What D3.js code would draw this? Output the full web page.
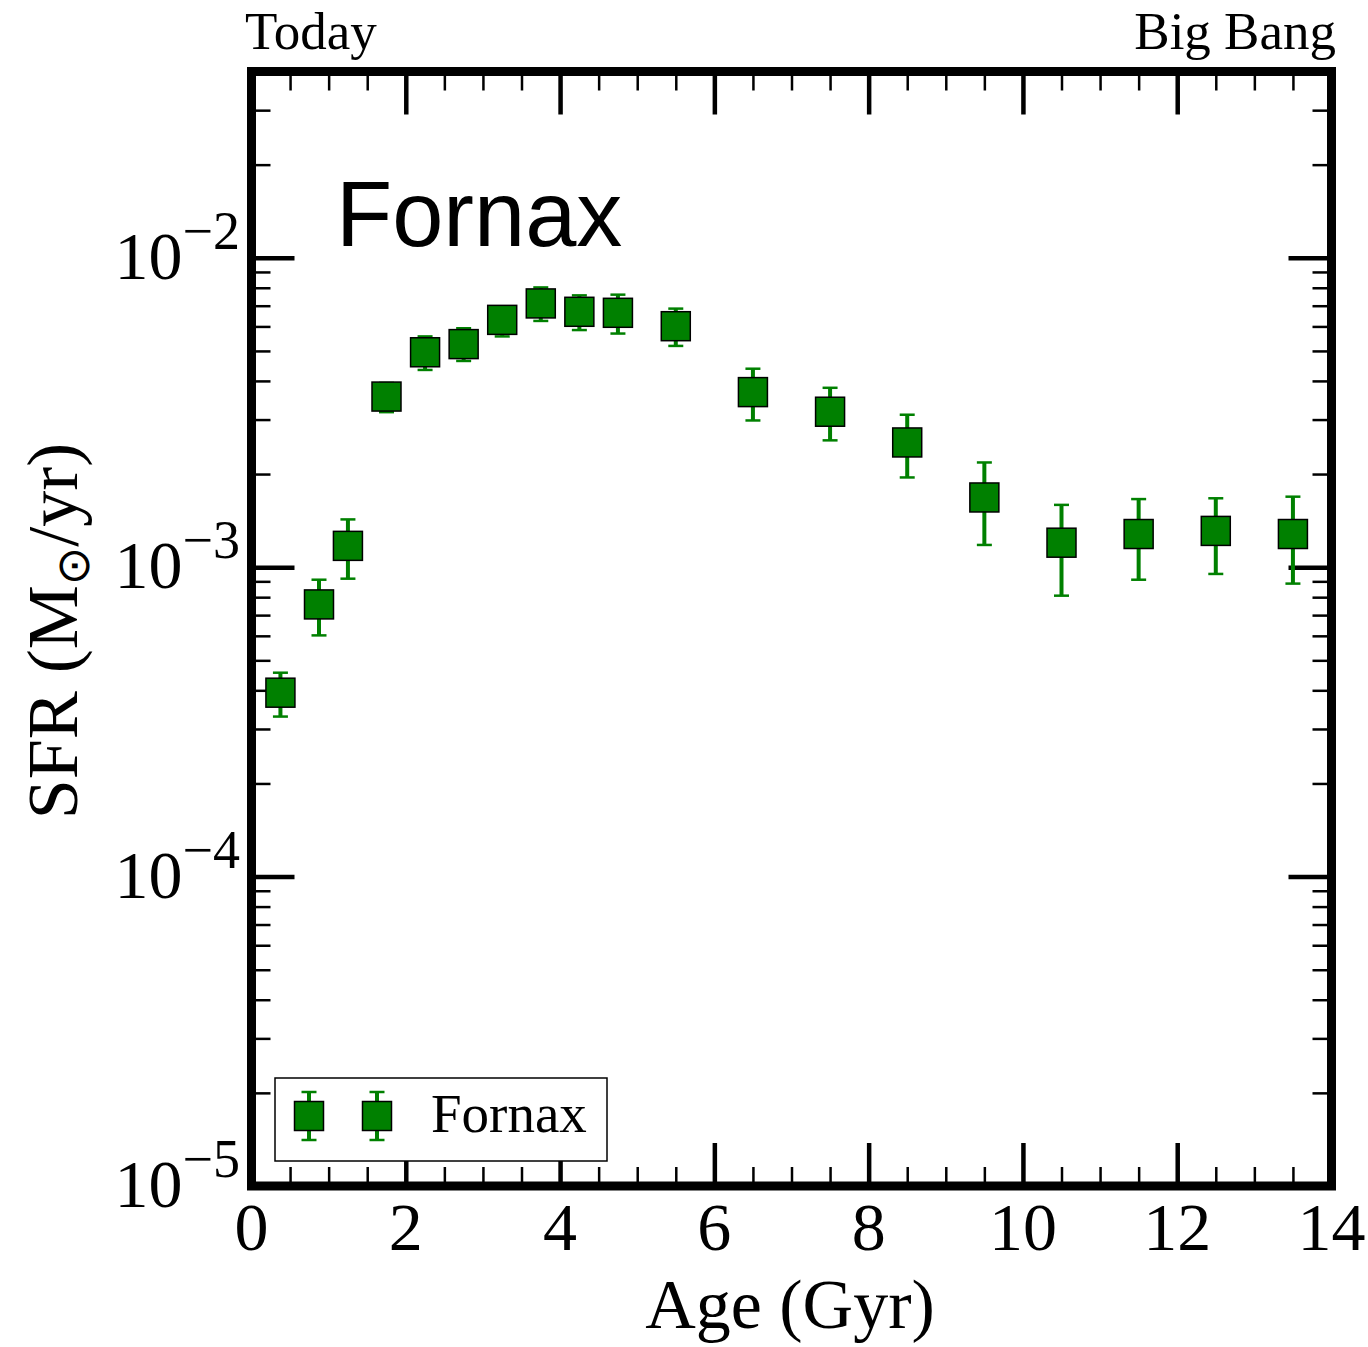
<!DOCTYPE html>
<html>
<head>
<meta charset="utf-8">
<script src="https://cdn.jsdelivr.net/npm/d3@7"></script>
<style>
  html, body { margin: 0; padding: 0; background: #fff; }
  svg { display: block; }
</style>
</head>
<body>
<svg id="chart" width="1368" height="1347"></svg>
<script>
// Fornax star formation history: SFR per age bin with error bars
const ages  = [0.375, 0.875, 1.25, 1.75, 2.25, 2.75, 3.25, 3.75, 4.25, 4.75, 5.5, 6.5, 7.5, 8.5, 9.5, 10.5, 11.5, 12.5, 13.5];
const sfr   = [3.93e-4, 7.58e-4, 1.172e-3, 3.56e-3, 4.95e-3, 5.26e-3, 6.30e-3, 7.12e-3, 6.69e-3, 6.64e-3, 6.01e-3, 3.68e-3, 3.18e-3, 2.53e-3, 1.68e-3, 1.20e-3, 1.28e-3, 1.31e-3, 1.28e-3];
const sfrHi = [4.56e-4, 9.11e-4, 1.427e-3, 3.94e-3, 5.57e-3, 5.92e-3, 6.95e-3, 8.02e-3, 7.56e-3, 7.60e-3, 6.85e-3, 4.38e-3, 3.80e-3, 3.11e-3, 2.18e-3, 1.59e-3, 1.66e-3, 1.67e-3, 1.69e-3];
const sfrLo = [3.29e-4, 6.02e-4, 9.18e-4, 3.17e-3, 4.34e-3, 4.64e-3, 5.57e-3, 6.25e-3, 5.84e-3, 5.69e-3, 5.19e-3, 2.98e-3, 2.57e-3, 1.95e-3, 1.18e-3, 8.09e-4, 9.11e-4, 9.51e-4, 8.85e-4];

const xMajorTicks = [0, 2, 4, 6, 8, 10, 12, 14];
const yMajorExponents = [-5, -4, -3, -2];
const seriesName = "Fornax";

const svg = d3.select("#chart");
const plotL = 251.5, plotR = 1331.5, plotT = 71.5, plotB = 1186;

const x = d3.scaleLinear().domain([0, 14]).range([plotL, plotR]);
const y = d3.scaleLog().domain([1e-5, 4e-2]).range([plotB, plotT]);

const green = "#008000";
const serif = "'Liberation Serif', 'Times New Roman', serif";

// minor tick values
const xMinor = d3.range(0, 14.01, 0.5).filter(v => !xMajorTicks.includes(v));
const yMajor = yMajorExponents.map(e => Math.pow(10, e));
const yMinor = [];
for (let e = -5; e <= -2; e++) {
  for (let m = 2; m <= 9; m++) {
    const v = m * Math.pow(10, e);
    if (v < 4e-2) yMinor.push(v);
  }
}

const ticks = svg.append("g");
function drawTicks(sel, axisGen, values, size, width) {
  sel.call(axisGen.tickValues(values).tickSize(-size).tickFormat(""));
  sel.select(".domain").remove();
  sel.selectAll(".tick line").attr("stroke", "#000").attr("stroke-width", width);
}
// bottom & top
drawTicks(ticks.append("g").attr("transform", `translate(0,${plotB})`), d3.axisBottom(x), xMajorTicks, 43, 4.5);
drawTicks(ticks.append("g").attr("transform", `translate(0,${plotB})`), d3.axisBottom(x), xMinor, 19, 2.5);
drawTicks(ticks.append("g").attr("transform", `translate(0,${plotT})`), d3.axisTop(x), xMajorTicks, 43, 4.5);
drawTicks(ticks.append("g").attr("transform", `translate(0,${plotT})`), d3.axisTop(x), xMinor, 19, 2.5);
// left & right
drawTicks(ticks.append("g").attr("transform", `translate(${plotL},0)`), d3.axisLeft(y), yMajor, 43, 4.5);
drawTicks(ticks.append("g").attr("transform", `translate(${plotL},0)`), d3.axisLeft(y), yMinor, 19, 2.5);
drawTicks(ticks.append("g").attr("transform", `translate(${plotR},0)`), d3.axisRight(y), yMajor, 43, 4.5);
drawTicks(ticks.append("g").attr("transform", `translate(${plotR},0)`), d3.axisRight(y), yMinor, 19, 2.5);

// x tick labels
svg.append("g").selectAll("text").data(xMajorTicks).join("text")
  .attr("x", d => x(d)).attr("y", 1250)
  .attr("text-anchor", "middle")
  .attr("font-family", serif).attr("font-size", 68)
  .text(d => d);

// y tick labels: 10 with superscript exponent
const yl = svg.append("g").selectAll("text").data(yMajorExponents).join("text")
  .attr("x", 240).attr("y", d => y(Math.pow(10, d)) + 21)
  .attr("text-anchor", "end")
  .attr("font-family", serif);
yl.append("tspan").attr("font-size", 68).text("10");
yl.append("tspan").attr("font-size", 54).attr("dy", -30).text(d => "\u2212" + Math.abs(d));

// error bars
const pts = ages.map((a, i) => ({ a, v: sfr[i], hi: sfrHi[i], lo: sfrLo[i] }));
const eb = svg.append("g").attr("stroke", green);
eb.selectAll("line.v").data(pts).join("line").attr("class", "v")
  .attr("x1", d => x(d.a)).attr("x2", d => x(d.a))
  .attr("y1", d => y(d.hi)).attr("y2", d => y(d.lo))
  .attr("stroke-width", 4);
eb.selectAll("line.ch").data(pts).join("line").attr("class", "ch")
  .attr("x1", d => x(d.a) - 7.5).attr("x2", d => x(d.a) + 7.5)
  .attr("y1", d => y(d.hi)).attr("y2", d => y(d.hi)).attr("stroke-width", 2.5);
eb.selectAll("line.cl").data(pts).join("line").attr("class", "cl")
  .attr("x1", d => x(d.a) - 7.5).attr("x2", d => x(d.a) + 7.5)
  .attr("y1", d => y(d.lo)).attr("y2", d => y(d.lo)).attr("stroke-width", 2.5);

// square markers
const sq = 29;
svg.append("g").selectAll("rect").data(pts).join("rect")
  .attr("x", d => x(d.a) - sq / 2).attr("y", d => y(d.v) - sq / 2)
  .attr("width", sq).attr("height", sq)
  .attr("fill", green).attr("stroke", "#000").attr("stroke-width", 1.5);

// frame
svg.append("rect")
  .attr("x", plotL).attr("y", plotT)
  .attr("width", plotR - plotL).attr("height", plotB - plotT)
  .attr("fill", "none").attr("stroke", "#000").attr("stroke-width", 9);

// panel title
svg.append("text").attr("x", 336).attr("y", 246)
  .attr("font-family", "'Liberation Sans', Arial, sans-serif").attr("font-size", 92)
  .text(seriesName);

// top labels
svg.append("text").attr("x", 245).attr("y", 49)
  .attr("font-family", serif).attr("font-size", 53).text("Today");
svg.append("text").attr("x", 1336).attr("y", 49).attr("text-anchor", "end")
  .attr("font-family", serif).attr("font-size", 53).text("Big Bang");

// axis titles
svg.append("text").attr("x", 790).attr("y", 1328).attr("text-anchor", "middle")
  .attr("font-family", serif).attr("font-size", 70).text("Age (Gyr)");
const ylab = svg.append("text")
  .attr("transform", "translate(77,631) rotate(-90)")
  .attr("text-anchor", "middle")
  .attr("font-family", serif).attr("font-size", 72);
ylab.append("tspan").text("SFR (M");
ylab.append("tspan").attr("font-size", 46).attr("dy", 12).attr("font-family", "'DejaVu Sans', sans-serif").text("\u2299");
ylab.append("tspan").attr("dy", -12).text("/yr)");

// legend
const lg = svg.append("g");
lg.append("rect").attr("x", 275).attr("y", 1078).attr("width", 332).attr("height", 83)
  .attr("fill", "#fff").attr("stroke", "#000").attr("stroke-width", 1.5);
const legPts = [309, 377];
legPts.forEach(cx => {
  const cy = 1116;
  lg.append("line").attr("x1", cx).attr("x2", cx).attr("y1", cy - 24).attr("y2", cy + 24)
    .attr("stroke", green).attr("stroke-width", 4);
  [cy - 24, cy + 24].forEach(yy => lg.append("line")
    .attr("x1", cx - 7.5).attr("x2", cx + 7.5).attr("y1", yy).attr("y2", yy)
    .attr("stroke", green).attr("stroke-width", 2.5));
  lg.append("rect").attr("x", cx - sq / 2).attr("y", cy - sq / 2).attr("width", sq).attr("height", sq)
    .attr("fill", green).attr("stroke", "#000").attr("stroke-width", 1.5);
});
lg.append("text").attr("x", 431).attr("y", 1132)
  .attr("font-family", serif).attr("font-size", 55).text(seriesName);
</script>
</body>
</html>
